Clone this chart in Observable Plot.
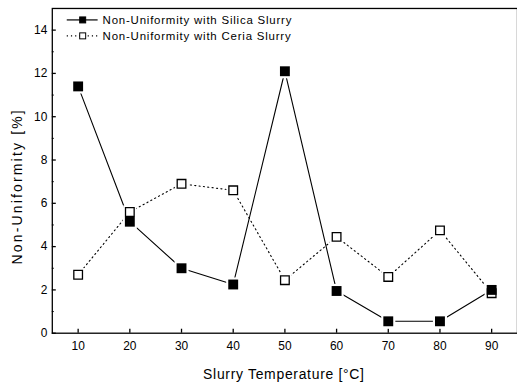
<!DOCTYPE html>
<html>
<head>
<meta charset="utf-8">
<script src="https://cdn.jsdelivr.net/npm/d3@7"></script>
<script src="https://cdn.jsdelivr.net/npm/@observablehq/plot@0.6"></script>
<style>
  html, body { margin: 0; padding: 0; background: #fff; overflow: hidden; }
  #chart svg { font-family: "Liberation Sans", Arial, sans-serif; }
</style>
</head>
<body>
<div id="chart"></div>
<script>
const temps = [10, 20, 30, 40, 50, 60, 70, 80, 90];
const silica = [11.4, 5.15, 3.0, 2.25, 12.1, 1.95, 0.55, 0.55, 2.0];
const ceria = [2.7, 5.6, 6.9, 6.6, 2.45, 4.45, 2.6, 4.75, 1.85];
const seriesNames = ["Non-Uniformity with Silica Slurry", "Non-Uniformity with Ceria Slurry"];
const xTitle = "Slurry Temperature [°C]";
const yTitle = "Non-Uniformity [%]";
const xTicks = [10, 20, 30, 40, 50, 60, 70, 80, 90];
const yTicks = [0, 2, 4, 6, 8, 10, 12, 14];
const yMinor = [1, 3, 5, 7, 9, 11, 13];

const silicaData = temps.map((t, i) => ({t, v: silica[i]}));
const ceriaData = temps.map((t, i) => ({t, v: ceria[i]}));

const plot = Plot.plot({
  width: 519,
  height: 388,
  marginLeft: 52,
  marginRight: 0,
  marginTop: 8,
  marginBottom: 54,
  style: {fontSize: "12px", fontFamily: "Liberation Sans, Arial, sans-serif", color: "#000", background: "#fff"},
  x: {domain: [5, 95], ticks: xTicks, label: null},
  y: {domain: [0, 15], ticks: yTicks, label: null},
  marks: [
    Plot.frame({stroke: "#000", strokeWidth: 1.3}),
    Plot.axisX({ticks: xTicks, tickSize: 0, tickPadding: 8, fontSize: 12, label: null}),
    Plot.axisX({ticks: xTicks, tickSize: -4, text: null, label: null, strokeWidth: 1.3}),
    Plot.axisY({ticks: yTicks, tickSize: 0, tickPadding: 5, fontSize: 12, label: null}),
    Plot.axisY({ticks: yTicks, tickSize: -4, text: null, label: null, strokeWidth: 1.3}),
    Plot.axisY({ticks: yMinor, tickSize: -2, text: null, label: null}),
    Plot.line(ceriaData, {x: "t", y: "v", stroke: "#000", strokeWidth: 1.1, strokeDasharray: "1.2,3.2"}),
    Plot.line(silicaData, {x: "t", y: "v", stroke: "#000", strokeWidth: 1.1}),
    Plot.dot(ceriaData, {x: "t", y: "v", symbol: "square", r: 7.5, fill: "#fff", stroke: "none"}),
    Plot.dot(silicaData, {x: "t", y: "v", symbol: "square", r: 8, fill: "#fff", stroke: "none"}),
    Plot.dot(ceriaData, {x: "t", y: "v", symbol: "square", r: 4.9, fill: "#fff", stroke: "#000", strokeWidth: 1.3}),
    Plot.dot(silicaData, {x: "t", y: "v", symbol: "square", r: 5.6, fill: "#000", stroke: "none"})
  ]
});
document.getElementById("chart").appendChild(plot);

const svg = d3.select(plot);
// Axis titles
svg.append("text")
  .attr("x", 285).attr("y", 376).attr("dy", "0.35em")
  .attr("text-anchor", "middle").attr("font-size", 14).attr("letter-spacing", "0.7px")
  .attr("fill", "#000").text(xTitle);
svg.append("text")
  .attr("transform", "translate(17,187) rotate(-90)").attr("dy", "0.35em")
  .attr("text-anchor", "middle").attr("font-size", 14).attr("letter-spacing", "2.2px")
  .attr("fill", "#000").text(yTitle);

// Legend (inside plot area, top-left)
const lg = svg.append("g")
  .attr("font-family", "Liberation Sans, Arial, sans-serif")
  .attr("font-size", 11.5)
  .attr("letter-spacing", "0.8px")
  .attr("text-anchor", "start");
const rows = [
  {name: seriesNames[0], dash: null, fill: "#000", y: 20},
  {name: seriesNames[1], dash: "1.2,3", fill: "#fff", y: 36}
];
rows.forEach(r => {
  lg.append("line").attr("x1", 67).attr("x2", 98).attr("y1", r.y).attr("y2", r.y)
    .attr("stroke", "#000").attr("stroke-width", 1.2).attr("stroke-dasharray", r.dash);
  lg.append("rect").attr("x", 80).attr("y", r.y - 3).attr("width", 6).attr("height", 6)
    .attr("fill", r.fill).attr("stroke", "#000").attr("stroke-width", 1);
  lg.append("text").attr("x", 103).attr("y", r.y).attr("dy", "0.35em").text(r.name);
});
</script>
</body>
</html>
